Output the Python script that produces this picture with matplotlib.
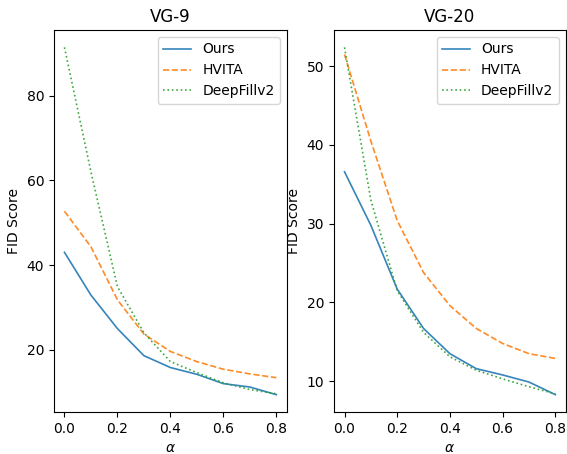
import matplotlib
matplotlib.use("Agg")
import matplotlib.pyplot as plt

alpha = [0.0, 0.1, 0.2, 0.3, 0.4, 0.5, 0.6, 0.7, 0.8]
methods = ["Ours", "HVITA", "DeepFillv2"]

# FID per alpha
vg9_ours = [43.0, 32.9, 25.0, 18.6, 15.8, 14.2, 12.0, 11.2, 9.4]
vg9_hvita = [52.7, 44.3, 31.8, 23.7, 19.6, 17.2, 15.4, 14.3, 13.4]
vg9_deepfill = [91.4, 62.0, 34.9, 24.0, 17.2, 14.6, 12.2, 10.6, 9.6]

vg20_ours = [36.6, 29.8, 21.7, 16.7, 13.5, 11.6, 10.8, 9.9, 8.3]
vg20_hvita = [51.5, 40.5, 30.4, 23.8, 19.6, 16.7, 14.8, 13.5, 12.9]
vg20_deepfill = [52.4, 33.0, 21.5, 16.2, 13.1, 11.4, 10.3, 9.3, 8.4]

styles = ["-", "--", ":"]
colors = ["#1f77b4", "#ff7f0e", "#2ca02c"]

fig = plt.figure(figsize=(5.67, 4.54), dpi=100)
ax1 = fig.add_axes([0.095, 0.0925, 0.411, 0.8415])
ax2 = fig.add_axes([0.589, 0.0925, 0.409, 0.8415])

for ax, title, series in [
    (ax1, "VG-9", [vg9_ours, vg9_hvita, vg9_deepfill]),
    (ax2, "VG-20", [vg20_ours, vg20_hvita, vg20_deepfill]),
]:
    for name, ys, ls, c in zip(methods, series, styles, colors):
        ax.plot(alpha, ys, linestyle=ls, color=c, linewidth=1.2, alpha=0.9,
                label=name)
    ax.set_title(title)
    ax.set_xlabel(r"$\alpha$")
    ax.set_ylabel("FID Score")
    ax.legend(loc="upper right")

fig.savefig("out.png", dpi=100)
